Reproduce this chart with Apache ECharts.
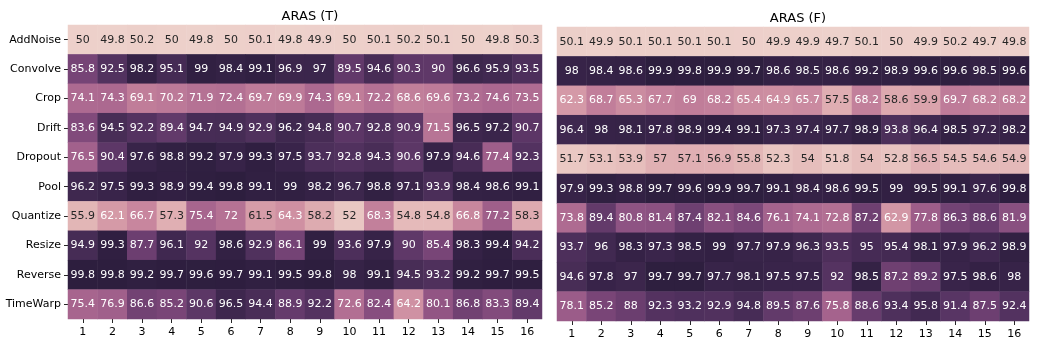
<!DOCTYPE html>
<html>
<head>
<meta charset="utf-8">
<script src="https://cdn.jsdelivr.net/npm/echarts@6/dist/echarts.min.js"></script>
<style>
html,body{margin:0;padding:0;background:#fff;}
#chart{width:1037px;height:348px;}
</style>
</head>
<body>
<div id="chart"></div>
<script>
const rows = ["AddNoise","Convolve","Crop","Drift","Dropout","Pool","Quantize","Resize","Reverse","TimeWarp"];
const cols = ["1","2","3","4","5","6","7","8","9","10","11","12","13","14","15","16"];
const titleT = "ARAS (T)";
const titleF = "ARAS (F)";

const valuesT = [
  [50,49.8,50.2,50,49.8,50,50.1,49.8,49.9,50,50.1,50.2,50.1,50,49.8,50.3],
  [85.8,92.5,98.2,95.1,99,98.4,99.1,96.9,97,89.5,94.6,90.3,90,96.6,95.9,93.5],
  [74.1,74.3,69.1,70.2,71.9,72.4,69.7,69.9,74.3,69.1,72.2,68.6,69.6,73.2,74.6,73.5],
  [83.6,94.5,92.2,89.4,94.7,94.9,92.9,96.2,94.8,90.7,92.8,90.9,71.5,96.5,97.2,90.7],
  [76.5,90.4,97.6,98.8,99.2,97.9,99.3,97.5,93.7,92.8,94.3,90.6,97.9,94.6,77.4,92.3],
  [96.2,97.5,99.3,98.9,99.4,99.8,99.1,99,98.2,96.7,98.8,97.1,93.9,98.4,98.6,99.1],
  [55.9,62.1,66.7,57.3,75.4,72,61.5,64.3,58.2,52,68.3,54.8,54.8,66.8,77.2,58.3],
  [94.9,99.3,87.7,96.1,92,98.6,92.9,86.1,99,93.6,97.9,90,85.4,98.3,99.4,94.2],
  [99.8,99.8,99.2,99.7,99.6,99.7,99.1,99.5,99.8,98,99.1,94.5,93.2,99.2,99.7,99.5],
  [75.4,76.9,86.6,85.2,90.6,96.5,94.4,88.9,92.2,72.6,82.4,64.2,80.1,86.8,83.3,89.4]
];
const valuesF = [
  [50.1,49.9,50.1,50.1,50.1,50.1,50,49.9,49.9,49.7,50.1,50,49.9,50.2,49.7,49.8],
  [98,98.4,98.6,99.9,99.8,99.9,99.7,98.6,98.5,98.6,99.2,98.9,99.6,99.6,98.5,99.6],
  [62.3,68.7,65.3,67.7,69,68.2,65.4,64.9,65.7,57.5,68.2,58.6,59.9,69.7,68.2,68.2],
  [96.4,98,98.1,97.8,98.9,99.4,99.1,97.3,97.4,97.7,98.9,93.8,96.4,98.5,97.2,98.2],
  [51.7,53.1,53.9,57,57.1,56.9,55.8,52.3,54,51.8,54,52.8,56.5,54.5,54.6,54.9],
  [97.9,99.3,98.8,99.7,99.6,99.9,99.7,99.1,98.4,98.6,99.5,99,99.5,99.1,97.6,99.8],
  [73.8,89.4,80.8,81.4,87.4,82.1,84.6,76.1,74.1,72.8,87.2,62.9,77.8,86.3,88.6,81.9],
  [93.7,96,98.3,97.3,98.5,99,97.7,97.9,96.3,93.5,95,95.4,98.1,97.9,96.2,98.9],
  [94.6,97.8,97,99.7,99.7,97.7,98.1,97.5,97.5,92,98.5,87.2,89.2,97.5,98.6,98],
  [78.1,85.2,88,92.3,93.2,92.9,94.8,89.5,87.6,75.8,88.6,93.4,95.8,91.4,87.5,92.4]
];

// seaborn default cubehelix_palette (light=.85 -> dark=.15)
function cubehelix(x){
  const gamma=1,start=0,rot=0.4,hue=0.8;
  const xg=Math.pow(x,gamma);
  const a=hue*xg*(1-xg)/2;
  const phi=2*Math.PI*(start/3+rot*x);
  const c=Math.cos(phi), s=Math.sin(phi);
  const cl=v=>Math.min(1,Math.max(0,v));
  return [cl(xg+a*(-0.14861*c+1.78277*s)), cl(xg+a*(-0.29227*c-0.90649*s)), cl(xg+a*(1.97294*c))];
}
function cmapRGB(t){ return cubehelix(0.85-0.7*t); }
function toHex(rgb){ return '#'+rgb.map(v=>Math.round(v*255).toString(16).padStart(2,'0')).join(''); }
const palette=[]; for(let i=0;i<=64;i++){ palette.push(toHex(cmapRGB(i/64))); }
function lum(rgb){
  const l=rgb.map(v=>v<=0.03928?v/12.92:Math.pow((v+0.055)/1.055,2.4));
  return 0.2126*l[0]+0.7152*l[1]+0.0722*l[2];
}
function build(vals){
  const flat=vals.flat(); const mn=Math.min(...flat), mx=Math.max(...flat);
  const data=[];
  vals.forEach((row,r)=>row.forEach((v,c)=>{
    const rgb=cmapRGB((v-mn)/(mx-mn));
    data.push({value:[c,r,v], label:{color: lum(rgb)>0.408?'#262626':'#ffffff'}});
  }));
  return {data,mn,mx};
}
const T=build(valuesT), F=build(valuesF);

const font='DejaVu Sans';
function xAx(gi){ return {type:'category',gridIndex:gi,data:cols,axisLine:{show:false},
  axisTick:{show:true,alignWithLabel:true,length:4,lineStyle:{color:'#262626',width:1}},
  axisLabel:{color:'#000',fontSize:11,fontFamily:font,margin:8},splitArea:{show:false},splitLine:{show:false}}; }
function yAx(gi,show){ return {type:'category',gridIndex:gi,data:rows,inverse:true,axisLine:{show:false},
  axisTick:{show:show,alignWithLabel:true,length:4,lineStyle:{color:'#262626',width:1}},
  axisLabel:{show:show,color:'#000',fontSize:11,fontFamily:font,margin:7},splitArea:{show:false},splitLine:{show:false}}; }
function ser(gi,d){ return {type:'heatmap',xAxisIndex:gi,yAxisIndex:gi,data:d.data,
  label:{show:true,fontSize:11,fontFamily:font,formatter:p=>String(p.value[2])},
  itemStyle:{borderWidth:0},emphasis:{disabled:true},progressive:0}; }

const chart=echarts.init(document.getElementById('chart'),null,{renderer:'canvas'});
chart.setOption({
  animation:false,
  backgroundColor:'#ffffff',
  title:[
    {text:titleT,left:305,top:5,textAlign:'center',textStyle:{fontFamily:font,fontSize:13,fontWeight:'normal',color:'#000'}},
    {text:titleF,left:793,top:7,textAlign:'center',textStyle:{fontFamily:font,fontSize:13,fontWeight:'normal',color:'#000'}}
  ],
  grid:[
    {left:68,top:25,width:474,height:294},
    {left:557,top:27,width:472,height:294}
  ],
  xAxis:[xAx(0),xAx(1)],
  yAxis:[yAx(0,true),yAx(1,false)],
  visualMap:[
    {show:false,seriesIndex:0,min:T.mn,max:T.mx,dimension:2,inRange:{color:palette}},
    {show:false,seriesIndex:1,min:F.mn,max:F.mx,dimension:2,inRange:{color:palette}}
  ],
  series:[ser(0,T),ser(1,F)]
});
</script>
</body>
</html>
